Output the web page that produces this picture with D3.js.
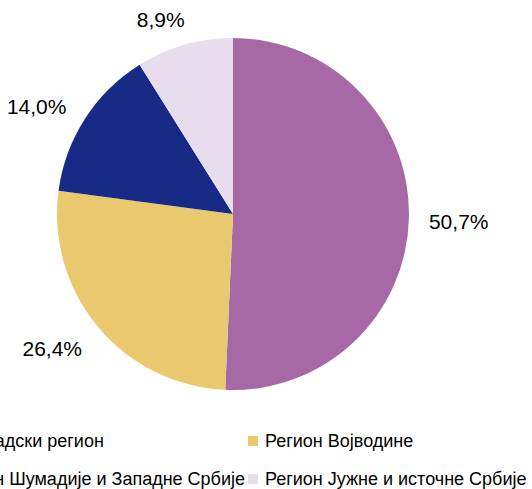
<!DOCTYPE html>
<html>
<head>
<meta charset="utf-8">
<script src="https://cdn.jsdelivr.net/npm/d3@7"></script>
<style>
  body { margin: 0; background: #fff; }
  text { font-family: "Liberation Sans", Arial, sans-serif; fill: #000; }
</style>
</head>
<body>
<div id="chart"></div>
<script>
// региони и удели (%)
var regions = ['Београдски регион', 'Регион Војводине', 'Регион Шумадије и Западне Србије', 'Регион Јужне и источне Србије'];
var shares = [50.7, 26.4, 14.0, 8.9];
var colors = ['#a669a5', '#eac96e', '#172a86', '#e8ddec'];

var W = 532, H = 489;
var cx = 233, cy = 214, radius = 176;

var svg = d3.select('#chart').append('svg')
    .attr('width', W)
    .attr('height', H);

var pie = d3.pie().sort(null).value(function(d) { return d; });
var arc = d3.arc().innerRadius(0).outerRadius(radius);
var arcs = pie(shares);

var g = svg.append('g').attr('transform', 'translate(' + cx + ',' + cy + ')');

g.selectAll('path')
    .data(arcs)
    .enter().append('path')
    .attr('d', arc)
    .attr('fill', function(d, i) { return colors[i]; });

// проценти изван круга
var fmt = function(v) { return d3.format('.1f')(v).replace('.', ',') + '%'; };
var gap = 20;
g.selectAll('text.lbl')
    .data(arcs)
    .enter().append('text')
    .attr('class', 'lbl')
    .style('font-size', '21px')
    .attr('text-anchor', 'middle')
    .attr('dominant-baseline', 'central')
    .text(function(d) { return fmt(d.data); })
    .each(function(d) {
        var a = (d.startAngle + d.endAngle) / 2;
        var s = Math.sin(a), c = -Math.cos(a);
        var w = this.getComputedTextLength();
        // мали лево-десно помак као у Excel-у
        var x = (radius + gap) * s + s * w / 2 + (s < 0 ? -Math.abs(c) * 12 : 0);
        var y = (radius + gap) * c + c * 9 + 3;
        d3.select(this).attr('x', x).attr('y', y);
    });

// легенда у две колоне
var legend = svg.append('g').attr('class', 'legend');
var rowY = [441, 479];
var col2Swatch = 248;
var items = legend.selectAll('g')
    .data(regions)
    .enter().append('g');

items.append('text')
    .style('font-size', '18px')
    .attr('dominant-baseline', 'central')
    .text(function(d) { return d; });

// ширина прве колоне према најдужем натпису
var col1Width = 0;
items.each(function(d, i) {
    if (i % 2 == 0)
        col1Width = Math.max(col1Width, d3.select(this).select('text').node().getComputedTextLength());
});
var colStep = col1Width + 20;

items.attr('transform', function(d, i) {
    var col = i % 2, row = Math.floor(i / 2);
    return 'translate(' + (col2Swatch - (1 - col) * colStep) + ',' + rowY[row] + ')';
});

items.insert('rect', 'text')
    .attr('x', 0)
    .attr('y', -5)
    .attr('width', 10)
    .attr('height', 10)
    .attr('fill', function(d, i) { return colors[i]; });

items.select('text').attr('x', 17);
</script>
</body>
</html>
